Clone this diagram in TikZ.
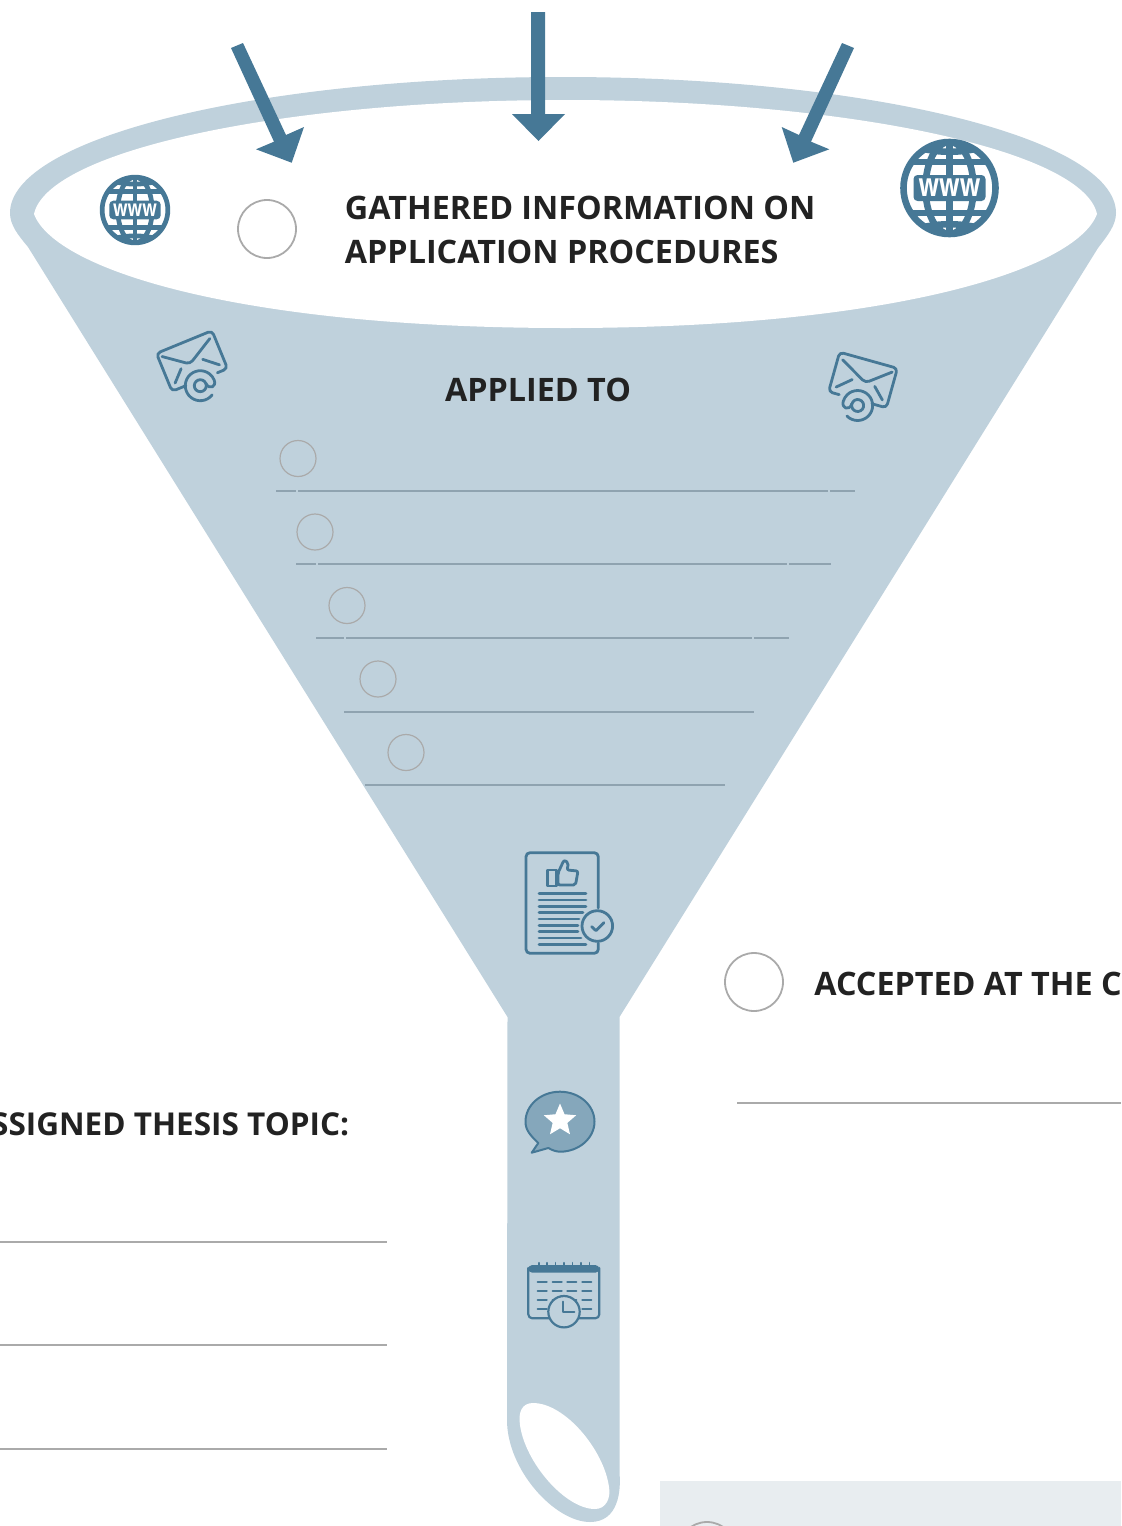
\documentclass[tikz,border=0pt]{standalone}
\usepackage{fontspec}
\setmainfont{Open Sans}
\usetikzlibrary{positioning}
\usetikzlibrary{shapes.geometric}
\definecolor{mfunnel}{HTML}{BFD1DC}
\definecolor{mblue}{HTML}{467896}
\definecolor{mbubble}{HTML}{85A7BB}
\definecolor{mline}{HTML}{8FA3B0}
\definecolor{mgray}{HTML}{AAAAAA}
\definecolor{mtext}{HTML}{222222}
\definecolor{mpanel}{HTML}{E8EDF0}
\tikzset{tickbig/.style = {draw = mgray, fill = white, line width = 0.9, circle, inner sep = 0, minimum size = 29}}
\tikzset{ticksmall/.style = {draw = mgray, line width = 0.6, circle, inner sep = 0, minimum size = 18}}
\tikzset{head/.style = {text = mtext, inner sep = 0, font = \fontsize{16.15}{22}\selectfont\bfseries}}
\tikzset{rule/.style = {mgray, line width = 1.1}}
\tikzset{fill rule/.style = {mline, line width = 1.2}}
\tikzset{icon/.style = {mblue, line width = 1.4, line cap = round, line join = round}}
\newcommand{\globeicon}[5]{
  \begin{scope}[shift={(#1, #2)}, scale=#3]
    \begin{scope}[mblue, line width=#3*3.3]
      \clip (0, 0) circle (46);
      \draw (0, 0) ellipse (24 and 46);
      \draw (0, -46) -- (0, 46);
      \draw (-46, -26) -- (46, -26);
      \draw (-46, 25) -- (46, 25);
      \draw (-30, -40) .. controls (-10, -35) and (10, -35) .. (30, -40);
      \draw (-30, 40) .. controls (-10, 35) and (10, 35) .. (30, 40);
    \end{scope}
    \draw [mblue, line width=#3*3.3] (0, 0) circle (46);
    \fill [mblue, rounded corners=2] (-36, -13) rectangle (36, 13);
    \node (#4) [white, inner sep=0, font=\fontsize{#5}{#5}\selectfont\bfseries] at (0, 0) {\scalebox{1}[1.35]{www}};
  \end{scope}
}
\newcommand{\mailicon}{
  \draw [icon, rounded corners=2] (-15, 20.5) -- (-30, 20.5) -- (-30, -20.5) -- (30, -20.5) -- (30, 20.5) -- (19, 20.5);
  \draw [icon, rounded corners=2] (-26, -15.5) -- (-3, 2) -- (25, -14);
  \draw [icon] (-13, 3) -- (-24, 14);
  \draw [icon] (10.5, 2.5) -- (24, 14);
  \draw [icon] (-1.7, 26) circle (6);
  \draw [icon] (5.8, 39) arc (60:360:15) .. controls (13.3, 33) and (5, 34) .. (4.3, 26);
}
\begin{document}
\begin{tikzpicture}[x=0.5pt, y=-0.5pt]
  \useasboundingbox (0, 0) rectangle (1121, 1526);
  \clip (0, 0) rectangle (1121, 1526);

  \fill [mpanel] (660, 1481) rectangle (1121, 1526);
  \node (panelcirc) [tickbig, fill=none] at (707, 1551) {};

  \fill [mfunnel] (10, 213) .. controls (10, 138) and (258, 77) .. (563, 77)
    .. controls (868, 77) and (1116, 138) .. (1116, 213)
    .. controls (1116, 225) and (1108, 235) .. (1098, 248)
    -- (619.5, 1017) -- (619.5, 1473)
    .. controls (621, 1490) and (619, 1522) .. (590, 1522)
    .. controls (555, 1522) and (507, 1470) .. (507, 1420)
    -- (507.5, 1017) -- (28, 247)
    .. controls (18, 235) and (10, 225) .. (10, 213) -- cycle;
  \fill [white] (34, 214) .. controls (48, 150) and (285, 100) .. (565.5, 100)
    .. controls (846, 100) and (1083, 150) .. (1097, 214)
    .. controls (1076, 270) and (891, 328) .. (565.5, 328)
    .. controls (240, 328) and (55, 270) .. (34, 214) -- cycle;
  \fill [white] (533, 1403) .. controls (522, 1403) and (518, 1412) .. (520, 1425)
    .. controls (525, 1462) and (565, 1509) .. (595, 1509)
    .. controls (606, 1509) and (611, 1498) .. (609, 1487)
    .. controls (604, 1450) and (565, 1403) .. (533, 1403) -- cycle;

  \fill [mblue] (231, 48) -- (243, 43) -- (286, 135) -- (304, 127) -- (291.7, 162.7) -- (256, 149.3) -- (274, 141.7) -- cycle;
  \fill [mblue] (531, 12) -- (545, 12) -- (545, 114) -- (565, 114) -- (538.5, 141) -- (512, 114) -- (531, 114) -- cycle;
  \fill [mblue] (854, 48) -- (842, 43) -- (799, 135) -- (781.7, 127) -- (793.3, 162.7) -- (829.3, 149.3) -- (811, 141.7) -- cycle;

  \globeicon{135}{210}{0.714}{wwwleft}{8.5}
  \globeicon{949.5}{188}{1}{wwwright}{12}

  \node (gatheredcirc) [tickbig] at (267, 229) {};
  \node (gathered) [head, align=left, anchor=west] at (344.5, 230) {GATHERED INFORMATION ON\\APPLICATION PROCEDURES};

  \begin{scope}[shift={(192, 361)}, rotate=22.3]
    \mailicon
  \end{scope}
  \begin{scope}[shift={(863, 380)}, rotate=-15.6, xscale=-1]
    \mailicon
  \end{scope}

  \node (applied) [head, anchor=base] at (538, 401) {APPLIED TO};

  \node (applya) [ticksmall] at (298, 458.5) {};
  \node (applyb) [ticksmall] at (315, 532) {};
  \node (applyc) [ticksmall] at (347, 605.5) {};
  \node (applyd) [ticksmall] at (378, 679) {};
  \node (applye) [ticksmall] at (406, 752.5) {};
  \draw [fill rule] (276, 491) -- (296, 491);
  \draw [fill rule] (298, 491) -- (828, 491);
  \draw [fill rule] (830, 491) -- (855, 491);
  \draw [fill rule] (296, 564) -- (316, 564);
  \draw [fill rule] (318, 564) -- (787, 564);
  \draw [fill rule] (789, 564) -- (831, 564);
  \draw [fill rule] (316, 638) -- (344, 638);
  \draw [fill rule] (346, 638) -- (752, 638);
  \draw [fill rule] (754, 638) -- (789, 638);
  \draw [fill rule] (344, 712) -- (754, 712);
  \draw [fill rule] (365, 785) -- (725, 785);

  \draw [icon, rounded corners=2] (598.3, 908) -- (598.3, 852.7) -- (526, 852.7) -- (526, 953.3) -- (598.3, 953.3) -- (598.3, 943);
  \draw [icon] (547.5, 870) rectangle (556.5, 886);
  \draw [icon, rounded corners=1] (558, 885) -- (558, 873) -- (564, 860) -- (568.5, 863) -- (567, 870) -- (578, 871) -- (575.5, 885) -- cycle;
  \foreach \y/\xend in {893.3/586, 900/586, 906.3/586, 912.7/583, 919/579, 925.3/578, 931.7/578, 938/581, 944.3/586}
    \draw [icon] (539, \y) -- (\xend, \y);
  \draw [icon] (597.3, 926) circle (15.3);
  \draw [icon] (591.7, 926.7) -- (596, 930.7) -- (604, 922.7);

  \draw [mblue, fill=mbubble, line width=1, line join=round] (538.3, 1143)
    .. controls (530, 1135) and (525.5, 1130) .. (525.5, 1121.7)
    .. controls (525.5, 1105) and (541, 1091.7) .. (560, 1091.7)
    .. controls (579, 1091.7) and (594.5, 1105) .. (594.5, 1121.7)
    .. controls (594.5, 1138) and (579, 1151.7) .. (560, 1151.7)
    .. controls (556, 1151.7) and (552, 1150) .. (548.3, 1148)
    -- (531.7, 1152.7) -- cycle;
  \node (bubblestar) [star, star points=5, star point ratio=2.2, fill=white, inner sep=0, minimum size=17] at (560, 1120.5) {};

  \draw [icon, line width=1.1, rounded corners=2] (528.3, 1268) -- (528.3, 1318.3) -- (599.3, 1318.3) -- (599.3, 1268);
  \fill [mblue, rounded corners=2] (528.3, 1272.7) -- (528.3, 1265) -- (599.3, 1265) -- (599.3, 1272.7) -- cycle;
  \foreach \x in {538.7, 547, 555.3, 563.7, 572.3, 580.7, 589.3}
    \draw [icon, line width=0.8] (\x, 1262.7) -- (\x, 1266);
  \foreach \x in {537.7, 552.7, 567.3, 582.3} {
    \foreach \y in {1282, 1291, 1300, 1309}
      \draw [icon, line width=1.1] (\x, \y) -- ++(9, 0);
  }
  \draw [icon, fill=mfunnel, line width=1.1] (564, 1311.7) circle (15.7);
  \draw [icon, line width=1.1] (563.3, 1301.7) -- (563.3, 1311.7) -- (574.3, 1311.7);

  \node (acceptedcirc) [tickbig] at (754, 982) {};
  \node (accepted) [head, anchor=base west] at (814, 995) {ACCEPTED AT THE C};
  \draw [rule] (737, 1103) -- (1121, 1103);

  \node (assigned) [head, anchor=base east, font=\fontsize{15.75}{22}\selectfont\bfseries] at (349.5, 1135) {SSIGNED THESIS TOPIC:};
  \draw [rule] (0, 1242) -- (387, 1242);
  \draw [rule] (0, 1345) -- (387, 1345);
  \draw [rule] (0, 1449) -- (387, 1449);
\end{tikzpicture}
\end{document}
